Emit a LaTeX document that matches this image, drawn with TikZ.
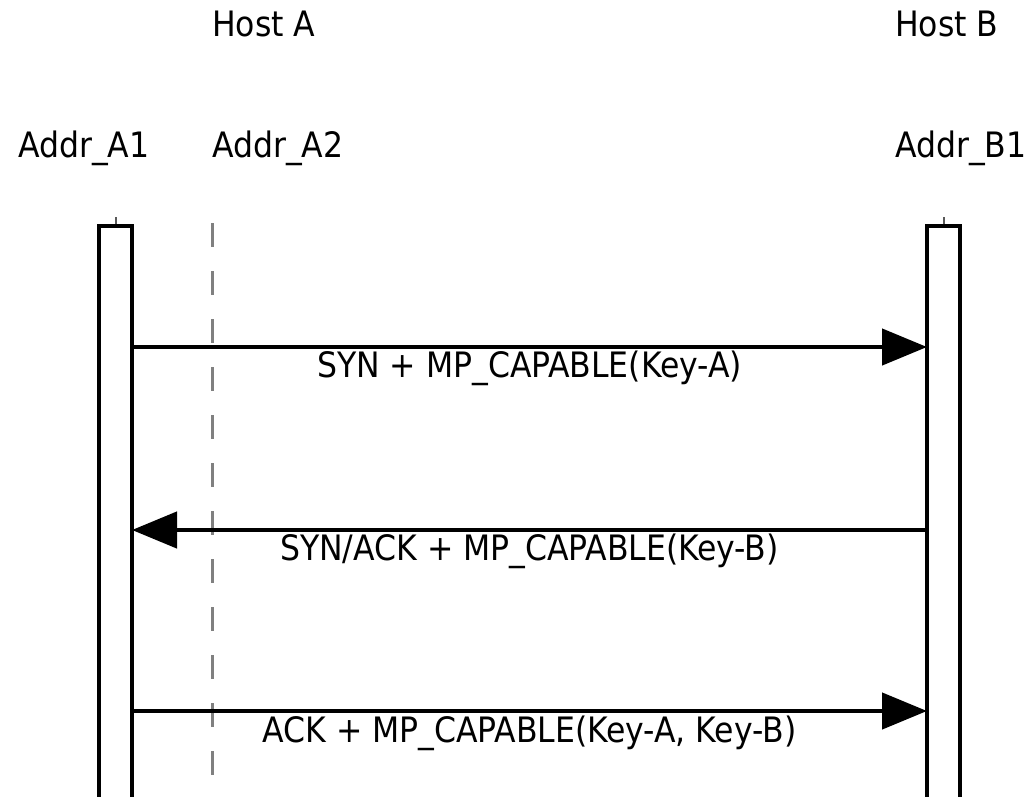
\documentclass[tikz,border=0pt]{standalone}
\usepackage{fontspec}
\setmainfont{DejaVu Sans Condensed}
\usetikzlibrary{arrows.meta}

\tikzset{
  lifebox/.style={draw, line width=4.5pt, fill=white, minimum width=33pt,
    minimum height=620pt, anchor=north, inner sep=0pt, outer sep=0pt},
  msg/.style={line width=4.5pt, -{Triangle[length=45pt,width=36pt]}},
  hostlabel/.style={anchor=base west, inner sep=0pt},
  msglabel/.style={anchor=base, inner sep=0pt}
}

\begin{document}
\begin{tikzpicture}[x=1pt,y=-1pt,font=\fontsize{35}{42}\selectfont]
          \useasboundingbox (0,0) rectangle (1034,796);

          % host and address names
          \node[hostlabel] (hostA) at (212,36) {Host A};
          \node[hostlabel] (hostB) at (895,36) {Host B};
          \node[hostlabel] (addrA1) at (18,157) {Addr\_A1};
          \node[hostlabel] (addrA2) at (212,157) {Addr\_A2};
          \node[hostlabel] (addrB1) at (895,157) {Addr\_B1};

          % idle address
          \draw[gray, line width=3pt, dash pattern=on 24pt off 24pt] (212,223) -- (212,800);

          % active lifelines
          \draw[gray!70!black, line width=2pt] (115.5,217) -- (115.5,226);
          \draw[gray!70!black, line width=2pt] (943.5,217) -- (943.5,226);
          \node[lifebox] (boxA1) at (115.5,226) {};
          \node[lifebox] (boxB1) at (943.5,226) {};

          % handshake
          \coordinate (t1) at (0,347);
          \coordinate (t2) at (0,530);
          \coordinate (t3) at (0,711);
          \draw[msg] (boxA1.east |- t1) -- (boxB1.west |- t1);
          \draw[msg] (boxB1.west |- t2) -- (boxA1.east |- t2);
          \draw[msg] (boxA1.east |- t3) -- (boxB1.west |- t3);

          \node[msglabel] (lab1) at (529.5,377) {SYN + MP\_CAPABLE(Key-A)};
          \node[msglabel] (lab2) at (529.5,560) {SYN/ACK + MP\_CAPABLE(Key-B)};
          \node[msglabel] (lab3) at (529.5,742) {ACK + MP\_CAPABLE(Key-A, Key-B)};
        \end{tikzpicture}
\end{document}
